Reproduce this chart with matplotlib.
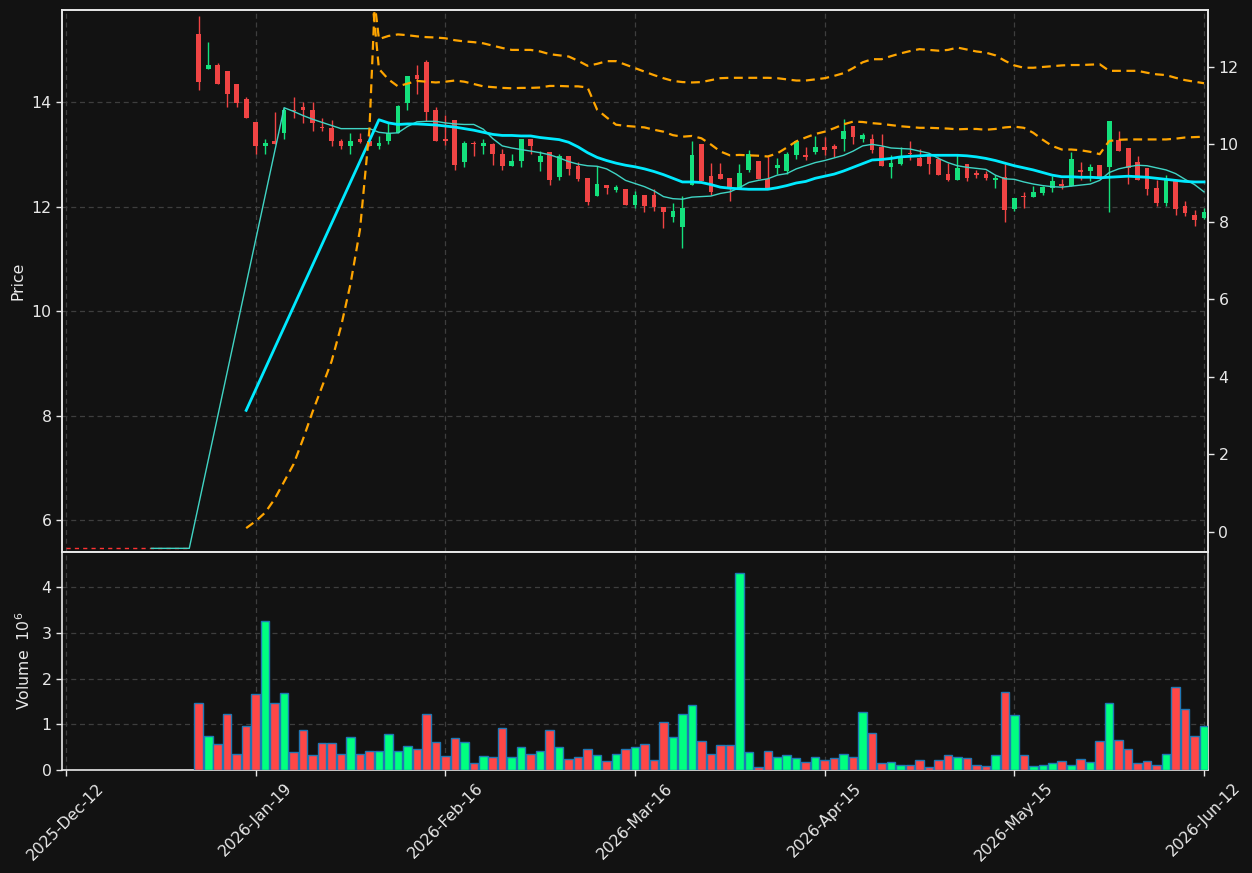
import numpy as np
import matplotlib
matplotlib.use('Agg')
import matplotlib.pyplot as plt

# ── axis slots / dates ─────────────────────────────────────────────────────
N_SLOTS = 121
FIRST_BAR = 14
tick_pos = [0, 20, 40, 60, 80, 100, 120]
tick_labels = ['2025-Dec-12', '2026-Jan-19', '2026-Feb-16', '2026-Mar-16',
               '2026-Apr-15', '2026-May-15', '2026-Jun-12']

# ── OHLC for bars 14..120 ──────────────────────────────────────────────────
opens = [15.30, 14.64, 14.71, 14.60, 14.35, 14.06, 13.61, 13.16, 13.26, 13.40,
         13.85, 13.91, 13.85, 13.52, 13.50, 13.26, 13.16, 13.30, 13.26, 13.16,
         13.25, 13.40, 13.99, 14.51, 14.76, 13.85, 13.30, 13.66, 12.85, 13.21,
         13.16, 13.19, 13.00, 12.77, 12.87, 13.30, 12.85, 13.05, 12.57, 12.97,
         12.77, 12.54, 12.20, 12.41, 12.32, 12.33, 12.03, 12.22, 12.22, 11.99,
         11.80, 11.61, 12.41, 13.20, 12.58, 12.62, 12.55, 12.36, 12.69, 12.88,
         12.52, 12.73, 12.67, 12.98, 12.98, 13.04, 13.14, 13.16, 13.30, 13.55,
         13.30, 13.30, 13.14, 12.76, 12.82, 13.03, 12.92, 12.98, 12.90, 12.63,
         12.51, 12.81, 12.65, 12.62, 12.51, 12.57, 11.95, 12.20, 12.18, 12.25,
         12.36, 12.44, 12.39, 12.69, 12.68, 12.79, 12.76, 13.28, 13.12, 12.86,
         12.73, 12.35, 12.06, 12.50, 12.01, 11.83, 11.78]
highs = [15.64, 15.14, 14.74, 14.60, 14.35, 14.10, 13.61, 13.30, 13.81, 13.89,
         14.10, 14.00, 14.00, 13.70, 13.66, 13.30, 13.41, 13.41, 13.40, 13.35,
         13.60, 13.95, 14.50, 14.71, 14.81, 13.90, 13.76, 13.66, 13.25, 13.26,
         13.30, 13.21, 13.10, 13.01, 13.30, 13.30, 13.06, 13.05, 13.01, 12.97,
         12.85, 12.54, 12.77, 12.41, 12.41, 12.33, 12.30, 12.22, 12.33, 11.99,
         12.06, 12.20, 13.26, 13.20, 12.84, 12.84, 12.55, 12.81, 13.09, 12.88,
         12.97, 12.93, 13.04, 13.26, 13.14, 13.35, 13.33, 13.20, 13.68, 13.55,
         13.41, 13.39, 13.39, 12.98, 13.14, 13.26, 13.10, 12.98, 12.95, 12.83,
         12.98, 12.81, 12.69, 12.68, 12.60, 12.81, 12.17, 12.28, 12.39, 12.39,
         12.58, 12.53, 13.04, 12.86, 12.81, 12.79, 13.64, 13.44, 13.12, 12.97,
         12.73, 12.50, 12.60, 12.50, 12.11, 11.93, 11.98]
lows = [14.22, 14.64, 14.34, 13.90, 13.90, 13.69, 13.00, 13.01, 13.19, 13.30,
        13.70, 13.60, 13.44, 13.44, 13.16, 13.10, 13.01, 13.21, 13.16, 13.10,
        13.20, 13.40, 13.85, 14.16, 13.63, 13.25, 13.17, 12.70, 12.76, 12.97,
        13.01, 12.79, 12.70, 12.77, 12.76, 13.01, 12.67, 12.41, 12.51, 12.60,
        12.49, 12.03, 12.20, 12.23, 12.27, 12.03, 11.98, 11.90, 11.92, 11.58,
        11.71, 11.21, 12.41, 12.49, 12.22, 12.52, 12.11, 12.33, 12.66, 12.52,
        12.33, 12.63, 12.63, 12.91, 12.89, 13.00, 12.98, 12.95, 13.06, 13.20,
        13.23, 13.03, 12.77, 12.55, 12.79, 12.89, 12.78, 12.62, 12.60, 12.48,
        12.51, 12.49, 12.55, 12.51, 12.36, 11.71, 11.92, 11.97, 12.18, 12.22,
        12.27, 12.33, 12.39, 12.51, 12.49, 12.55, 11.90, 13.06, 12.43, 12.51,
        12.22, 12.01, 12.01, 11.83, 11.81, 11.62, 11.76]
closes = [14.39, 14.71, 14.34, 14.15, 13.99, 13.69, 13.16, 13.21, 13.19, 13.85,
          13.83, 13.84, 13.60, 13.50, 13.25, 13.16, 13.26, 13.24, 13.16, 13.21,
          13.41, 13.92, 14.50, 14.44, 13.80, 13.25, 13.25, 12.79, 13.21, 13.19,
          13.21, 13.00, 12.77, 12.88, 13.30, 13.16, 12.97, 12.51, 12.97, 12.71,
          12.52, 12.09, 12.44, 12.35, 12.38, 12.03, 12.22, 12.01, 11.99, 11.90,
          11.92, 11.97, 12.98, 12.49, 12.28, 12.52, 12.36, 12.65, 13.01, 12.52,
          12.35, 12.79, 13.00, 13.26, 12.95, 13.14, 13.08, 13.10, 13.45, 13.33,
          13.36, 13.09, 12.77, 12.84, 12.94, 13.00, 12.78, 12.81, 12.60, 12.51,
          12.73, 12.54, 12.60, 12.55, 12.54, 11.94, 12.17, 12.18, 12.27, 12.37,
          12.48, 12.39, 12.91, 12.66, 12.76, 12.55, 13.64, 13.06, 12.74, 12.51,
          12.34, 12.06, 12.52, 11.96, 11.87, 11.75, 11.90]
# volume in millions
volumes = [1.47, 0.75, 0.56, 1.22, 0.34, 0.96, 1.66, 3.26, 1.46, 1.68,
           0.39, 0.87, 0.32, 0.58, 0.58, 0.36, 0.72, 0.34, 0.41, 0.41,
           0.78, 0.41, 0.52, 0.47, 1.22, 0.61, 0.30, 0.69, 0.61, 0.15,
           0.30, 0.28, 0.91, 0.28, 0.50, 0.36, 0.41, 0.87, 0.50, 0.23,
           0.28, 0.47, 0.32, 0.19, 0.34, 0.45, 0.50, 0.56, 0.21, 1.04,
           0.72, 1.22, 1.42, 0.63, 0.36, 0.54, 0.54, 4.31, 0.39, 0.07,
           0.41, 0.28, 0.32, 0.26, 0.17, 0.28, 0.21, 0.26, 0.34, 0.28,
           1.28, 0.80, 0.15, 0.17, 0.12, 0.12, 0.21, 0.06, 0.21, 0.32,
           0.28, 0.26, 0.12, 0.08, 0.32, 1.70, 1.20, 0.32, 0.08, 0.10,
           0.15, 0.19, 0.12, 0.23, 0.17, 0.63, 1.46, 0.65, 0.47, 0.15,
           0.19, 0.12, 0.34, 1.81, 1.33, 0.74, 0.96]

# ── overlay lines (x = slot index) ─────────────────────────────────────────
ma_slow_x = [19] + list(range(33, 121))
ma_slow = [8.10, 13.66, 13.60, 13.57, 13.58, 13.58, 13.57, 13.56, 13.54, 13.52,
           13.49, 13.46, 13.42, 13.38, 13.36, 13.36, 13.35, 13.35, 13.32, 13.30,
           13.28, 13.23, 13.14, 13.03, 12.94, 12.88, 12.83, 12.79, 12.76, 12.72,
           12.67, 12.61, 12.54, 12.47, 12.47, 12.46, 12.42, 12.37, 12.35, 12.34,
           12.33, 12.33, 12.33, 12.36, 12.40, 12.45, 12.48, 12.54, 12.58, 12.62,
           12.68, 12.75, 12.82, 12.89, 12.90, 12.92, 12.95, 12.96, 12.97, 12.98,
           12.98, 12.98, 12.98, 12.97, 12.95, 12.92, 12.88, 12.83, 12.78, 12.74,
           12.70, 12.65, 12.60, 12.57, 12.57, 12.56, 12.56, 12.55, 12.56, 12.57,
           12.58, 12.57, 12.56, 12.54, 12.52, 12.50, 12.48, 12.47, 12.47]

ma_fast_x = list(range(9, 14)) + list(range(23, 121))
ma_fast = [5.46, 5.46, 5.46, 5.46, 5.46,
           13.89, 13.82, 13.74, 13.67, 13.61, 13.55, 13.49, 13.49, 13.49, 13.49,
           13.42, 13.40, 13.41, 13.53, 13.62, 13.63, 13.63, 13.60, 13.58, 13.57,
           13.57, 13.48, 13.30, 13.16, 13.12, 13.09, 13.06, 13.03, 12.99, 12.93,
           12.86, 12.81, 12.78, 12.77, 12.72, 12.62, 12.50, 12.44, 12.38, 12.30,
           12.19, 12.15, 12.14, 12.18, 12.19, 12.20, 12.25, 12.28, 12.36, 12.46,
           12.50, 12.53, 12.60, 12.63, 12.72, 12.78, 12.84, 12.88, 12.93, 12.98,
           13.06, 13.16, 13.19, 13.16, 13.12, 13.11, 13.10, 13.06, 13.02, 12.92,
           12.84, 12.78, 12.75, 12.73, 12.71, 12.60, 12.53, 12.52, 12.47, 12.43,
           12.40, 12.38, 12.37, 12.39, 12.41, 12.43, 12.50, 12.65, 12.72, 12.76,
           12.79, 12.78, 12.74, 12.70, 12.63, 12.52, 12.42, 12.28]

base_x = list(range(0, 14))
base_line = [5.46] * 14

# right-axis series
band_x = list(range(32, 121))
band_upper = [14.80, 12.72, 12.80, 12.84, 12.82, 12.79, 12.77, 12.76, 12.74, 12.69,
              12.66, 12.64, 12.61, 12.55, 12.49, 12.44, 12.44, 12.44, 12.40, 12.33,
              12.30, 12.27, 12.16, 12.03, 12.08, 12.15, 12.15, 12.06, 11.97, 11.88,
              11.79, 11.71, 11.64, 11.61, 11.60, 11.61, 11.66, 11.71, 11.72, 11.72,
              11.72, 11.72, 11.72, 11.71, 11.68, 11.65, 11.65, 11.68, 11.71, 11.77,
              11.84, 11.97, 12.12, 12.20, 12.20, 12.28, 12.35, 12.41, 12.46, 12.44,
              12.42, 12.44, 12.50, 12.45, 12.40, 12.37, 12.30, 12.16, 12.04, 11.98,
              11.98, 12.00, 12.02, 12.04, 12.05, 12.05, 12.06, 12.07, 11.90, 11.90,
              11.90, 11.90, 11.85, 11.81, 11.79, 11.72, 11.66, 11.62, 11.58]
band_lower = [14.50, 11.95, 11.68, 11.50, 11.57, 11.64, 11.62, 11.60, 11.62, 11.65,
              11.62, 11.56, 11.50, 11.48, 11.46, 11.45, 11.46, 11.46, 11.47, 11.51,
              11.51, 11.50, 11.50, 11.47, 10.90, 10.70, 10.51, 10.48, 10.46, 10.44,
              10.38, 10.33, 10.24, 10.20, 10.22, 10.16, 10.00, 9.82, 9.72, 9.73,
              9.72, 9.71, 9.69, 9.77, 9.92, 10.08, 10.18, 10.27, 10.33, 10.42,
              10.52, 10.59, 10.58, 10.55, 10.53, 10.50, 10.47, 10.45, 10.43, 10.43,
              10.42, 10.41, 10.39, 10.40, 10.40, 10.38, 10.40, 10.44, 10.46, 10.43,
              10.30, 10.12, 9.96, 9.87, 9.87, 9.85, 9.81, 9.75, 10.09, 10.12,
              10.13, 10.13, 10.13, 10.13, 10.13, 10.15, 10.18, 10.19, 10.20]
rise_x = list(range(19, 34))
rise_line = [0.10, 0.28, 0.50, 0.85, 1.30, 1.75, 2.40, 3.10, 3.75, 4.40,
             5.30, 6.40, 7.80, 10.40, 16.20]

# ── style ──────────────────────────────────────────────────────────────────
BG = '#121212'
FG = '#e8e8e8'
GRID = '#3e3e3e'
UP_C, DOWN_C = '#14e07c', '#f04444'
VUP_C, VDOWN_C = '#00ff80', '#ff4747'
FS = 11.3

plt.rcParams['font.family'] = 'DejaVu Sans'
fig = plt.figure(figsize=(12.52, 8.73), dpi=100, facecolor=BG)
ax = fig.add_axes([0.04952, 0.36770, 0.91534, 0.62085], facecolor=BG)
axv = fig.add_axes([0.04952, 0.11798, 0.91534, 0.24972], facecolor=BG, sharex=ax)
ax2 = ax.twinx()

xs = np.arange(FIRST_BAR, FIRST_BAR + len(opens))
o, h, l, c = map(np.array, (opens, highs, lows, closes))
up = c >= o
ccol = np.where(up, UP_C, DOWN_C)
vcol = np.where(up, VUP_C, VDOWN_C)

# candles
ax.vlines(xs, l, h, colors=ccol, linewidth=1.0, zorder=3)
body = np.maximum(np.abs(c - o), 0.015)
ax.bar(xs, body, bottom=np.minimum(o, c), width=0.5, color=ccol,
       linewidth=0, zorder=4)

# moving averages / reference line
ax.plot(base_x, base_line, color='#ff3333', lw=1.0, ls=(0, (3, 3)), zorder=2)
ax.plot(ma_fast_x, ma_fast, color='#40d4c4', lw=1.0, zorder=5)
ax.plot(ma_slow_x, ma_slow, color='#00eaff', lw=2.0, zorder=5)

# secondary axis series
for ys, xx in ((band_upper, band_x), (band_lower, band_x), (rise_line, rise_x)):
    ax2.plot(xx, ys, color='#ffa500', lw=1.6, ls=(0, (4, 2.5)), zorder=2)

# volume
axv.bar(xs, volumes, width=0.9, color=vcol, edgecolor='#1f77b4',
        linewidth=1.0, zorder=3)

# limits
ax.set_xlim(-0.42, 120.42)
ax.set_ylim(5.39, 15.76)
ax2.set_ylim(-0.516, 13.47)
axv.set_ylim(0, 4.77)

# ticks
ax.set_yticks([6, 8, 10, 12, 14])
ax2.set_yticks([0, 2, 4, 6, 8, 10, 12])
axv.set_yticks([0, 1, 2, 3, 4])
axv.set_xticks(tick_pos)
axv.set_xticklabels(tick_labels, rotation=45, ha='center', fontsize=FS, color=FG)
ax.tick_params(axis='x', labelbottom=False, length=0)

for a in (ax, ax2, axv):
    a.tick_params(colors=FG, labelsize=FS, length=4, width=1)
    for s in a.spines.values():
        s.set_color(FG)
        s.set_linewidth(1.2)

for a in (ax, axv):
    a.grid(True, color=GRID, ls=(0, (4, 3)), lw=0.9)
    a.set_axisbelow(True)

ax.set_ylabel('Price', color=FG, fontsize=FS)
axv.set_ylabel('Volume  $10^{6}$', color=FG, fontsize=FS)
ax.yaxis.set_label_coords(-0.032, 0.5)
axv.yaxis.set_label_coords(-0.025, 0.5)

fig.savefig('out.png', dpi=100, facecolor=BG)
